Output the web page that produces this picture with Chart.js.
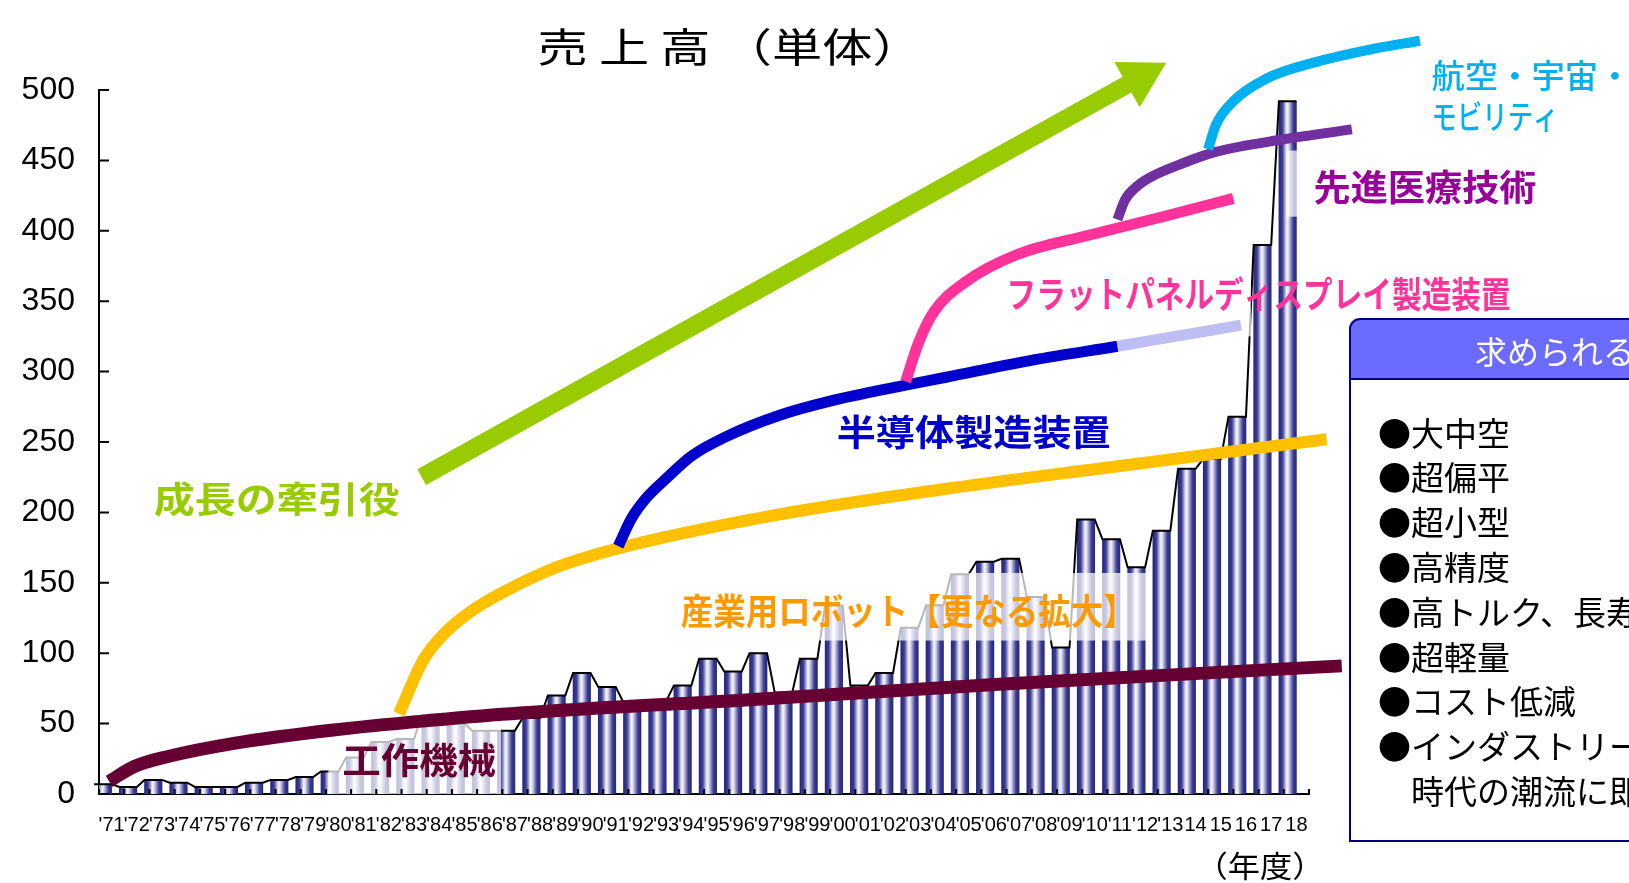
<!DOCTYPE html>
<html>
<head>
<meta charset="utf-8">
<script src="https://cdn.jsdelivr.net/npm/chart.js@4.4.0/dist/chart.umd.min.js"></script>
<style>
  html, body { margin: 0; padding: 0; background: #fff; }
  #wrap { width: 1629px; height: 883px; }
</style>
</head>
<body>
<div id="wrap"><canvas id="chart"></canvas></div>
<script>
// 年度
const years = ["'71","'72","'73","'74","'75","'76","'77","'78","'79","'80",
  "'81","'82","'83","'84","'85","'86","'87","'88","'89","'90",
  "'91","'92","'93","'94","'95","'96","'97","'98","'99","'00",
  "'01","'02","'03","'04","'05","'06","'07","'08","'09","'10",
  "'11","'12","'13","14","15","16","17","18"];

// 売上高（単体）
const sales = [7, 5, 10, 8, 5, 5, 8, 10, 12, 16,
  26, 37, 39, 56, 50, 45, 45, 54, 70, 86,
  76, 65, 66, 77, 96, 87, 100, 72, 96, 134,
  77, 86, 118, 134, 156, 165, 167, 140, 104, 195,
  181, 161, 187, 231, 238, 268, 390, 492];

const yTicks = [0, 50, 100, 150, 200, 250, 300, 350, 400, 450, 500];

// growth curves, [year index, value]
const machineToolCurve = [[-0.1, 9], [0.9, 19.5], [2.2, 26.5], [4.85, 36], [8.8, 45.5], [12.8, 52.5], [16.2, 57.5], [25.3, 67], [35.2, 78], [48.8, 91]];
const robotCurve = [[11.4, 57], [12.36, 95], [13.2, 114], [14.2, 129], [15.4, 142], [17.5, 160], [20, 174], [26, 197], [33.2, 217], [40, 233], [48.2, 252]];
const semiconductorCurve = [[20.1, 176], [20.6, 195], [21.2, 210], [22, 224], [23, 240], [24.4, 254], [26.5, 269], [28.5, 279], [31.4, 290], [33.1, 296], [36.8, 309], [39.9, 318], [41.2, 322], [44.8, 333]];
const fpdCurve = [[31.5, 293], [32, 320], [32.6, 342], [33.9, 364], [35.9, 383], [38.8, 397], [41.7, 410], [44.5, 423]];
const medicalCurve = [[39.9, 408], [40.2, 422], [40.7, 432], [41.2, 438], [42.5, 448], [43.8, 456], [46.5, 465], [49.2, 472]];
const aerospaceCurve = [[43.5, 458], [43.8, 475], [44.5, 492], [45.8, 508], [47.8, 520], [50, 529], [51.9, 535]];
const growthArrow = [[12.3, 225], [40.8, 509]];

// labels on the curves: text, x index, value, width, colour
const curveLabels = [
  ['成長の牽引役', 6.55, 209, 246, '#99CC00'],
  ['半導体製造装置', 34.2, 257, 274, '#0000CC'],
  ['産業用ロボット【更なる拡大】', 31.6, 130, 455, '#FF9900'],
  ['工作機械', 12.2, 23.6, 154, '#660033'],
  ['フラットパネルディスプレイ製造装置', 45.5, 355, 504, '#FF3399'],
  ['先進医療技術', 52.1, 431, 223, '#990099']
];
// pale boxes behind labels: x0, x1, v0, v1
const labelBoxes = [[8.6, 15.45, 0, 57], [22.6, 41.2, 109, 157], [35.3, 45.2, 325, 390], [46.6, 56.9, 410, 457]];

const needsTitle = '求められる性能';
const needsItems = ['●大中空', '●超偏平', '●超小型', '●高精度', '●高トルク、長寿命', '●超軽量', '●コスト低減', '●インダストリー4.0'];
const needsLast = '時代の潮流に即応';

const JP = '"Noto Sans CJK JP", sans-serif';

function pts(arr) {
  return arr.map(p => ({ x: p[0], y: p[1] }));
}

function curve(data, color, width, order) {
  return {
    type: 'line',
    data: pts(data),
    xAxisID: 'x2',
    borderColor: color,
    borderWidth: width,
    borderCapStyle: 'butt',
    pointRadius: 0,
    cubicInterpolationMode: 'monotone',
    clip: false,
    order: order
  };
}

function fitText(c, text, x, y, width, font, color, align) {
  c.save();
  c.font = font;
  c.fillStyle = color;
  c.textBaseline = 'middle';
  c.textAlign = align || 'center';
  const sx = width / c.measureText(text).width;
  c.translate(x, y);
  c.scale(sx, 1);
  c.fillText(text, 0, 0);
  c.restore();
}

// cylinder shading per bar, series lines over bar tops, pale label boxes
const seriesLines = {
  id: 'seriesLines',
  beforeDatasetDraw(chart, args) {
    if (args.index !== 0) return;
    args.meta.data.forEach(b => {
      const l = b.x - b.width / 2, r = b.x + b.width / 2;
      if (!isFinite(l) || !isFinite(r)) return;
      const g = chart.ctx.createLinearGradient(l, 0, r, 0);
      g.addColorStop(0, '#26267c');
      g.addColorStop(0.2, '#3c3c92');
      g.addColorStop(0.45, '#f6f6ff');
      g.addColorStop(0.55, '#dcdcee');
      g.addColorStop(0.82, '#3c3c92');
      g.addColorStop(1, '#26267c');
      b.options.backgroundColor = g;
    });
  },
  afterDatasetDraw(chart, args) {
    if (args.index !== 0) return;
    const c = chart.ctx;
    const bars = args.meta.data;
    c.save();
    c.strokeStyle = '#000';
    c.lineWidth = 2;
    c.beginPath();
    bars.forEach((b, i) => {
      const l = b.x - b.width / 2, r = b.x + b.width / 2;
      if (i === 0) c.moveTo(l, b.y); else c.lineTo(l, b.y);
      c.lineTo(r, b.y);
    });
    c.stroke();
    const xs = chart.scales.x2, ys = chart.scales.y;
    c.fillStyle = 'rgba(255,255,255,0.72)';
    labelBoxes.forEach(bx => {
      const x0 = xs.getPixelForValue(bx[0]), x1 = xs.getPixelForValue(bx[1]);
      const y0 = ys.getPixelForValue(bx[3]), y1 = ys.getPixelForValue(bx[2]);
      c.fillRect(x0, y0, x1 - x0, y1 - y0);
    });
    c.restore();
  }
};

const decorations = {
  id: 'decorations',
  afterDraw(chart) {
    const c = chart.ctx;
    const xs = chart.scales.x, x2 = chart.scales.x2, ys = chart.scales.y;
    const area = chart.chartArea;
    c.save();
    // inner ticks
    c.strokeStyle = '#000';
    c.lineWidth = 2;
    c.beginPath();
    yTicks.forEach(v => {
      const y = ys.getPixelForValue(v);
      c.moveTo(area.left, y);
      c.lineTo(area.left + 10, y);
    });
    for (let i = 0; i <= years.length; i++) {
      const x = xs.getPixelForValue(i - 0.5);
      c.moveTo(x, area.bottom);
      c.lineTo(x, area.bottom - 5);
    }
    c.stroke();

    // title
    fitText(c, '売 上 高 （単体）', 730, 47, 385, '400 40px ' + JP, '#000');
    fitText(c, '（年度）', 1260, 866, 129, '400 30px ' + JP, '#000');

    // labels on curves
    curveLabels.forEach(l => {
      fitText(c, l[0], x2.getPixelForValue(l[1]), ys.getPixelForValue(l[2]), l[3], '700 36px ' + JP, l[4]);
    });
    fitText(c, '航空・宇宙・', x2.getPixelForValue(52.36), ys.getPixelForValue(510.6), 200, '500 33px ' + JP, '#00B0F0', 'left');
    fitText(c, 'モビリティ', x2.getPixelForValue(52.36), ys.getPixelForValue(481.5), 127, '500 33px ' + JP, '#00B0F0', 'left');

    // needs panel
    const px = 1350, py = 319, pw = 320, ph = 522, hh = 60, r = 10;
    c.beginPath();
    c.moveTo(px, py + ph);
    c.lineTo(px, py + r);
    c.arcTo(px, py, px + r, py, r);
    c.lineTo(px + pw, py);
    c.lineTo(px + pw, py + hh);
    c.lineTo(px, py + hh);
    c.closePath();
    c.fillStyle = '#6B6BFF';
    c.fill();
    c.strokeStyle = '#000080';
    c.lineWidth = 2;
    c.beginPath();
    c.moveTo(px + pw, py + ph);
    c.lineTo(px, py + ph);
    c.lineTo(px, py + r);
    c.arcTo(px, py, px + r, py, r);
    c.lineTo(px + pw, py);
    c.moveTo(px, py + hh);
    c.lineTo(px + pw, py + hh);
    c.stroke();
    c.fillStyle = '#fff';
    c.font = '400 32px ' + JP;
    c.textBaseline = 'middle';
    c.textAlign = 'left';
    c.fillText(needsTitle, 1475, 352);
    c.fillStyle = '#000';
    c.font = '400 33px ' + JP;
    needsItems.forEach((t, i) => {
      c.fillText(t, 1378, 433 + i * 44.8);
    });
    c.fillText(needsLast, 1411, 433 + needsItems.length * 44.8);
    c.restore();
  }
};

function pinX2(s) {
  s.min = -0.5;
  s.max = 47.5;
}

const ctx = document.getElementById('chart').getContext('2d');
const chart = new Chart(ctx, {
  data: {
    labels: years,
    datasets: [
      {
        type: 'bar',
        label: '売上高',
        data: sales,
        backgroundColor: (c) => '#3c3c92',
        borderWidth: 0,
        barThickness: 17.5,
        order: 10
      },
      curve(machineToolCurve, '#660033', 13, 8),
      curve(robotCurve, '#FFC000', 12, 7),
      Object.assign(curve(semiconductorCurve, '#0000CC', 11, 6), {
        segment: {
          borderColor: s => s.p0.parsed.x >= 39.9 ? 'rgba(110,110,230,0.45)' : undefined
        }
      }),
      curve(fpdCurve, '#FF3399', 11, 5),
      curve(medicalCurve, '#7030A0', 10, 4),
      curve(aerospaceCurve, '#00B0F0', 10, 3),
      {
        type: 'line',
        data: pts(growthArrow),
        xAxisID: 'x2',
        borderColor: '#99CC00',
        borderWidth: 18,
        borderCapStyle: 'butt',
        pointStyle: 'triangle',
        pointRadius: [0, 30],
        pointBorderWidth: 0,
        pointBackgroundColor: '#99CC00',
        pointRotation: function (c) {
          const xs = c.chart.scales.x2, ys = c.chart.scales.y;
          if (!xs || !ys) return 0;
          const dx = xs.getPixelForValue(growthArrow[1][0]) - xs.getPixelForValue(growthArrow[0][0]);
          const dy = ys.getPixelForValue(growthArrow[1][1]) - ys.getPixelForValue(growthArrow[0][1]);
          const a = Math.atan2(dx, -dy) * 180 / Math.PI;
          return isFinite(a) ? a : 0;
        },
        clip: false,
        order: 2
      }
    ]
  },
  options: {
    responsive: true,
    maintainAspectRatio: false,
    animation: false,
    events: [],
    layout: { padding: { top: 90, left: 0, right: 320, bottom: 0 } },
    plugins: {
      legend: { display: false },
      tooltip: { enabled: false }
    },
    scales: {
      x: {
        type: 'category',
        offset: true,
        grid: { display: false },
        border: { display: true, color: '#000', width: 2 },
        ticks: {
          autoSkip: false,
          maxRotation: 0,
          minRotation: 0,
          padding: 11,
          color: '#000',
          font: { family: '"Liberation Sans Narrow", "Liberation Sans", Arial', size: 20 }
        },
        afterFit(s) { s.height = 89; }
      },
      // hidden linear twin of the year axis, for the hand-drawn growth curves
      x2: {
        type: 'linear',
        display: false,
        bounds: 'data',
        afterDataLimits: pinX2,
        afterBuildTicks: pinX2
      },
      y: {
        min: 0,
        max: 500,
        grid: { display: false },
        border: { display: true, color: '#000', width: 2 },
        ticks: {
          stepSize: 50,
          padding: 16,
          color: '#000',
          font: { family: '"Liberation Sans", Arial', size: 32 }
        },
        afterFit(s) { s.width = 99; }
      }
    }
  },
  plugins: [seriesLines, decorations]
});
</script>
</body>
</html>
